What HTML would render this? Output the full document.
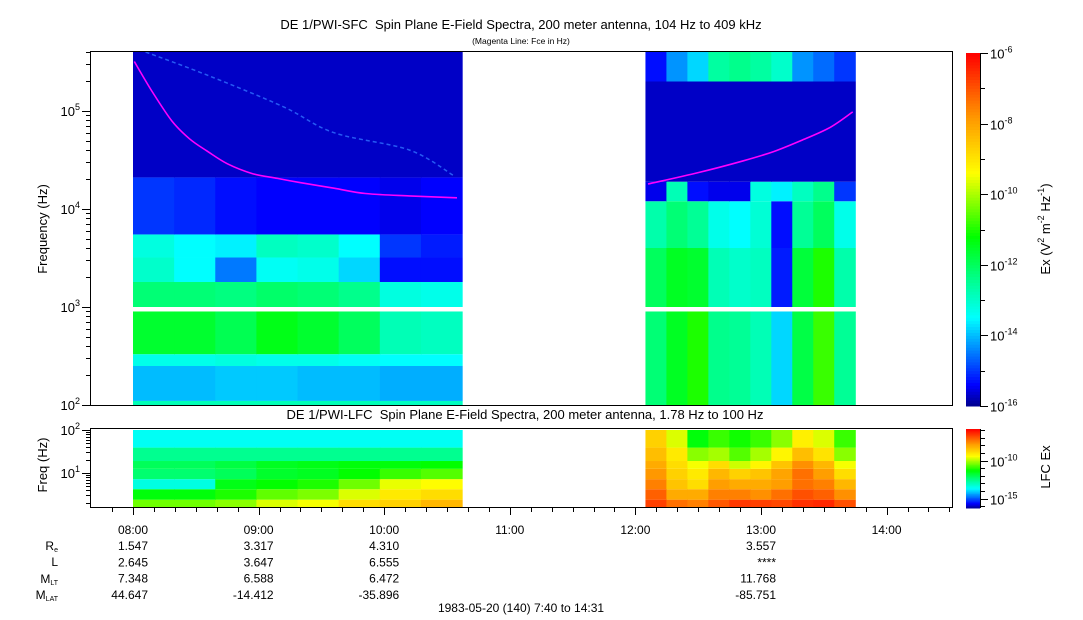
<!DOCTYPE html>
<html><head><meta charset="utf-8"><style>
html,body{margin:0;padding:0;background:#fff;}
svg{display:block;font-family:"Liberation Sans",sans-serif;}
text{white-space:pre;}
</style></head><body>
<svg id="chart" width="1083" height="620" viewBox="0 0 1083 620" xmlns="http://www.w3.org/2000/svg">
<text x="521" y="29" font-size="13" text-anchor="middle" xml:space="preserve">DE 1/PWI-SFC  Spin Plane E-Field Spectra, 200 meter antenna, 104 Hz to 409 kHz</text>
<text x="521" y="44" font-size="8.5" text-anchor="middle">(Magenta Line: Fce in Hz)</text>
<text x="525" y="419" font-size="13" text-anchor="middle" xml:space="preserve">DE 1/PWI-LFC  Spin Plane E-Field Spectra, 200 meter antenna, 1.78 Hz to 100 Hz</text>
<text transform="translate(47,229) rotate(-90)" font-size="13" text-anchor="middle">Frequency (Hz)</text>
<text transform="translate(47,465) rotate(-90)" font-size="13" text-anchor="middle">Freq (Hz)</text>
<text transform="translate(1050,229) rotate(-90)" font-size="13" text-anchor="middle">Ex (V<tspan font-size="9" dy="-6">2</tspan><tspan dy="6"> m</tspan><tspan font-size="9" dy="-6">-2</tspan><tspan dy="6"> Hz</tspan><tspan font-size="9" dy="-6">-1</tspan><tspan dy="6">)</tspan></text>
<text transform="translate(1050,467) rotate(-90)" font-size="13" text-anchor="middle">LFC Ex</text>
<g id="g-top"></g><g id="g-bot"></g><g id="g-axes"></g>
<text x="521" y="612" font-size="12" text-anchor="middle">1983-05-20 (140) 7:40 to 14:31</text>
</svg>
<script>
// ---- data ----
const block1Times = [8.0, 10.62];
const block2Times = [12.08, 13.75];
const topBand1Edges = [100, 110, 250, 330, 900];
const topBand1Vals = [
  [-12.8,-12.8,-12.8,-12.8,-12.8,-12.8,-12.9,-12.9],
  [-14.0,-14.0,-13.9,-13.9,-14.0,-14.0,-14.1,-14.1],
  [-13.3,-13.3,-13.2,-13.3,-13.3,-13.4,-13.5,-13.5],
  [-11.6,-11.6,-11.9,-11.4,-11.6,-12.0,-12.8,-12.9]];
const topBand1UpEdges = [1000, 1800, 3200, 5500, 21000, 409000];
const topBand1UpVals = [
  [-12.2,-12.2,-12.3,-12.1,-12.2,-12.4,-13.2,-13.3],
  [-13.0,-13.5,-14.5,-13.4,-13.3,-13.8,-15.3,-15.3],
  [-13.2,-13.5,-13.6,-12.9,-13.0,-13.5,-15.0,-15.2],
  [-15.0,-15.1,-15.3,-15.4,-15.4,-15.4,-15.5,-15.4],
  [-15.7,-15.7,-15.7,-15.7,-15.7,-15.7,-15.7,-15.7]];
const topBand2Edges = [100, 900];
const topBand2Vals = [[-12.2,-11.5,-11.0,-12.4,-12.5,-12.8,-13.8,-11.8,-10.8,-12.5]];
const topBand2UpEdges = [1000, 4000, 12000, 19000, 200000, 409000];
const topBand2UpVals = [
  [-12.0,-11.5,-11.6,-12.8,-13.0,-12.9,-15.2,-11.7,-11.0,-12.7],
  [-12.7,-12.2,-12.5,-13.3,-13.5,-13.1,-15.3,-12.5,-12.0,-13.3],
  [-15.5,-12.8,-15.3,-15.5,-15.5,-13.2,-13.6,-12.9,-12.4,-15.0],
  [-15.7,-15.7,-15.7,-15.7,-15.7,-15.7,-15.7,-15.7,-15.7,-15.7],
  [-15.3,-14.3,-13.8,-12.6,-12.4,-12.6,-13.0,-14.3,-14.6,-15.0]];
const lfcEdges = [1.6, 2.4, 4.2, 7.2, 12.5, 19, 39, 100];
const lfc1Vals = [
  [-10.4,-10.4,-10.2,-9.6,-9.4,-8.8,-8.6,-8.2],
  [-11.3,-11.3,-11.0,-10.5,-10.3,-9.6,-9.0,-8.8],
  [-13.3,-13.3,-11.4,-11.2,-11.0,-10.4,-9.5,-9.3],
  [-12.2,-12.2,-12.0,-11.6,-11.5,-11.2,-10.8,-10.6],
  [-12.0,-12.0,-11.8,-11.5,-11.4,-11.3,-11.3,-11.2],
  [-12.5,-12.5,-12.5,-12.5,-12.5,-12.5,-12.5,-12.5],
  [-13.5,-13.5,-13.5,-13.5,-13.5,-13.5,-13.5,-13.5]];
const lfc2Vals = [
  [-6.6,-7.2,-7.4,-6.9,-6.5,-6.6,-6.7,-6.4,-6.3,-6.8],
  [-7.0,-8.0,-8.0,-7.4,-7.4,-7.6,-7.2,-6.8,-7.0,-7.6],
  [-7.4,-8.4,-8.8,-7.8,-8.0,-8.0,-7.8,-7.2,-7.4,-8.2],
  [-7.7,-8.6,-9.0,-8.2,-8.6,-8.4,-7.9,-7.2,-7.8,-8.8],
  [-8.0,-8.8,-9.4,-8.8,-9.7,-9.2,-8.4,-7.6,-8.2,-9.4],
  [-8.3,-9.0,-10.2,-10.0,-10.6,-10.0,-9.2,-8.3,-8.9,-10.2],
  [-8.6,-9.6,-11.3,-10.8,-11.1,-10.8,-10.2,-9.1,-9.6,-10.8]];
const fce1Times = [8.01, 8.15, 8.31, 8.45, 8.59, 8.75, 8.95, 9.15, 9.33, 9.6, 9.85, 10.2, 10.58];
const fce1Vals = [320000, 160000, 79000, 52000, 39000, 29000, 23000, 20500, 18600, 16300, 14400, 13600, 13000];
const fce2Times = [12.1, 12.5, 12.86, 13.1, 13.32, 13.55, 13.73];
const fce2Vals = [18000, 23500, 31000, 38500, 50000, 68000, 98000];
const streakTimes = [8.1, 8.6, 9.2, 9.6, 10.2, 10.55];
const streakVals = [400000, 230000, 110000, 60000, 40000, 22000];
const hourTicks = ["08:00","09:00","10:00","11:00","12:00","13:00","14:00"];
const ephemVals = [["1.547","3.317","4.310","","","3.557",""],["2.645","3.647","6.555","","","****",""],["7.348","6.588","6.472","","","11.768",""],["44.647","-14.412","-35.896","","","-85.751",""]];

// ---- scales ----
const X0=133, PXH=125.6;
const xS = t => X0 + (t-8)*PXH;
const yTop = f => 405 - (Math.log10(f)-2)*98;
const yBot = f => 430 - (Math.log10(f)-2)*43;
const stops=[[0,[0,0,140]],[0.06,[0,0,255]],[0.25,[0,255,255]],[0.36,[0,255,140]],[0.48,[0,255,0]],[0.66,[255,255,0]],[0.82,[255,150,0]],[1,[255,0,0]]];
function cmap(v,lo,hi){let f=Math.max(0,Math.min(1,(v-lo)/(hi-lo)));for(let i=1;i<stops.length;i++){if(f<=stops[i][0]){const a=stops[i-1],b=stops[i];const k=(f-a[0])/(b[0]-a[0]);return 'rgb('+a[1].map((c,j)=>Math.round(c+(b[1][j]-c)*k)).join(',')+')';}}return 'rgb(255,0,0)';}
const NS='http://www.w3.org/2000/svg';
function mk(tag,attrs,parent){const e=document.createElementNS(NS,tag);for(const k in attrs)e.setAttribute(k,attrs[k]);parent.appendChild(e);return e;}
const gTop=document.getElementById('g-top'), gBot=document.getElementById('g-bot'), gAx=document.getElementById('g-axes');

function drawBlock(g,times,edges,vals,yf,lo,hi,name){
  for(let b=0;b<vals.length;b++){
    const row=vals[b], n=row.length, dt=(times[1]-times[0])/n;
    const y1=yf(edges[b+1]), y2=yf(edges[b]);
    for(let i=0;i<n;i++){
      const xa=xS(times[0]+i*dt), xb=xS(times[0]+(i+1)*dt);
      const r=mk('rect',{x:xa.toFixed(2),y:y1.toFixed(2),width:(xb-xa+0.6).toFixed(2),height:(y2-y1).toFixed(2),fill:cmap(row[i],lo,hi)},g);
      
      
    }
  }
}
drawBlock(gTop,block1Times,topBand1Edges,topBand1Vals,yTop,-16,-6,'sfc-block1-low');
drawBlock(gTop,block1Times,topBand1UpEdges,topBand1UpVals,yTop,-16,-6,'sfc-block1-high');
drawBlock(gTop,block2Times,topBand2Edges,topBand2Vals,yTop,-16,-6,'sfc-block2-low');
drawBlock(gTop,block2Times,topBand2UpEdges,topBand2UpVals,yTop,-16,-6,'sfc-block2-high');
drawBlock(gBot,block1Times,lfcEdges,lfc1Vals,yBot,-16.2,-5.8,'lfc-block1');
drawBlock(gBot,block2Times,lfcEdges,lfc2Vals,yBot,-16.2,-5.8,'lfc-block2');

function smoothPath(ts,vs){
  const P=ts.map((t,i)=>[xS(t),yTop(vs[i])]);
  let d='M'+P[0][0].toFixed(1)+','+P[0][1].toFixed(1);
  for(let i=0;i<P.length-1;i++){
    const p0=P[Math.max(0,i-1)],p1=P[i],p2=P[i+1],p3=P[Math.min(P.length-1,i+2)];
    const c1=[p1[0]+(p2[0]-p0[0])/6,p1[1]+(p2[1]-p0[1])/6], c2=[p2[0]-(p3[0]-p1[0])/6,p2[1]-(p3[1]-p1[1])/6];
    d+=' C'+c1.map(v=>v.toFixed(1)).join(',')+' '+c2.map(v=>v.toFixed(1)).join(',')+' '+p2[0].toFixed(1)+','+p2[1].toFixed(1);
  }
  return d;
}
function line(ts,vs,color,w,name,extra){
  const p=mk('path',Object.assign({d:smoothPath(ts,vs),fill:'none',stroke:color,'stroke-width':w},extra||{}),gTop);
  
  
}
line(streakTimes,streakVals,'#3070ff',1.5,'emission-streak',{'stroke-dasharray':'4 3','opacity':'0.8'});
line(fce1Times,fce1Vals,'#ff00ff',1.6,'fce-line-pass1');
line(fce2Times,fce2Vals,'#ff00ff',1.6,'fce-line-pass2');

// ---- axes ----
function frame(x,y,w,h,name){const r=mk('rect',{x:x,y:y,width:w,height:h,fill:'none',stroke:'#000','stroke-width':1},gAx);}
frame(90.5,51.5,862,354,'sfc-plot-frame');
frame(90.5,428.5,862,79,'lfc-plot-frame');
function ln(x1,y1,x2,y2){mk('line',{x1:x1,y1:y1,x2:x2,y2:y2,stroke:'#000','stroke-width':1},gAx);}
function txt(x,y,s,anchor,size,name){const t=mk('text',{x:x,y:y,'text-anchor':anchor,'font-size':size},gAx);t.innerHTML=s;return t;}
for(let d=2;d<=5;d++){for(let m=1;m<10;m++){const f=m*Math.pow(10,d);if(f>409000)break;const y=Math.round(yTop(f))+0.5;ln(m==1?82:86,y,90,y);}}
[2,3,4,5].forEach(d=>txt(80,yTop(Math.pow(10,d))+5,'10<tspan font-size="9" dy="-6">'+d+'</tspan>','end',13,'y-tick-label'));
for(let d=0;d<=2;d++){for(let m=1;m<10;m++){const f=m*Math.pow(10,d);if(f<1.6||f>100)continue;const y=Math.round(yBot(f))+0.5;ln(m==1?82:86,y,90,y);}}
[1,2].forEach(d=>txt(80,yBot(Math.pow(10,d))+5,'10<tspan font-size="9" dy="-6">'+d+'</tspan>','end',13,'lfc-y-tick-label'));
const cbTop=mk('g',{},gAx);
for(let i=0;i<120;i++){const v=-16+10*(i+0.5)/120;mk('rect',{x:966,y:(406-(i+1)*353/120).toFixed(2),width:14,height:(353/120+0.5).toFixed(2),fill:cmap(v,-16,-6)},cbTop);}


ln(980.5,53,980.5,406);
for(let e=-16;e<=-6;e++){const y=Math.round(406-(e+16)*35.3)+0.5;ln(980,y,e%2==0?988:985,y);if(e%2==0)txt(990,y+5,'10<tspan font-size="9" dy="-6">'+e+'</tspan>','start',13,'colorbar-tick-label');}
const cbBot=mk('g',{},gAx);
for(let i=0;i<60;i++){const v=-16.2+10.4*(i+0.5)/60;mk('rect',{x:966,y:(508-(i+1)*79/60).toFixed(2),width:14,height:(79/60+0.5).toFixed(2),fill:cmap(v,-16.2,-5.8)},cbBot);}


ln(980.5,429,980.5,508);
for(let e=-16;e<=-6;e++){const y=Math.round(460.6-(e+10)*7.6)+0.5;if(y<429||y>508)continue;ln(980,y,e%5==0?988:985,y);if(e%5==0)txt(990,y+5,'10<tspan font-size="9" dy="-6">'+e+'</tspan>','start',13,'lfc-colorbar-tick-label');}
for(let m=7*60+50;m<=14*60+30;m+=10){const x=Math.round(xS(m/60))+0.5;ln(x,508,x,m%60==0?515:512);}
hourTicks.forEach((h,i)=>{const x=xS(8+i);txt(x,534,h,'middle',12,'x-tick-label');
  ephemVals.forEach((row,r)=>{if(row[i])txt(x+15,550+r*16.3,row[i],'end',12,'ephemeris-value');});});
txt(58,550,'R<tspan font-size="7" dy="2">e</tspan>','end',12,'row-label-re');
txt(58,566,'L','end',12,'row-label-l');
txt(58,583,'M<tspan font-size="7" dy="2">LT</tspan>','end',12,'row-label-mlt');
txt(58,599,'M<tspan font-size="7" dy="2">LAT</tspan>','end',12,'row-label-mlat');
</script>
</body></html>
